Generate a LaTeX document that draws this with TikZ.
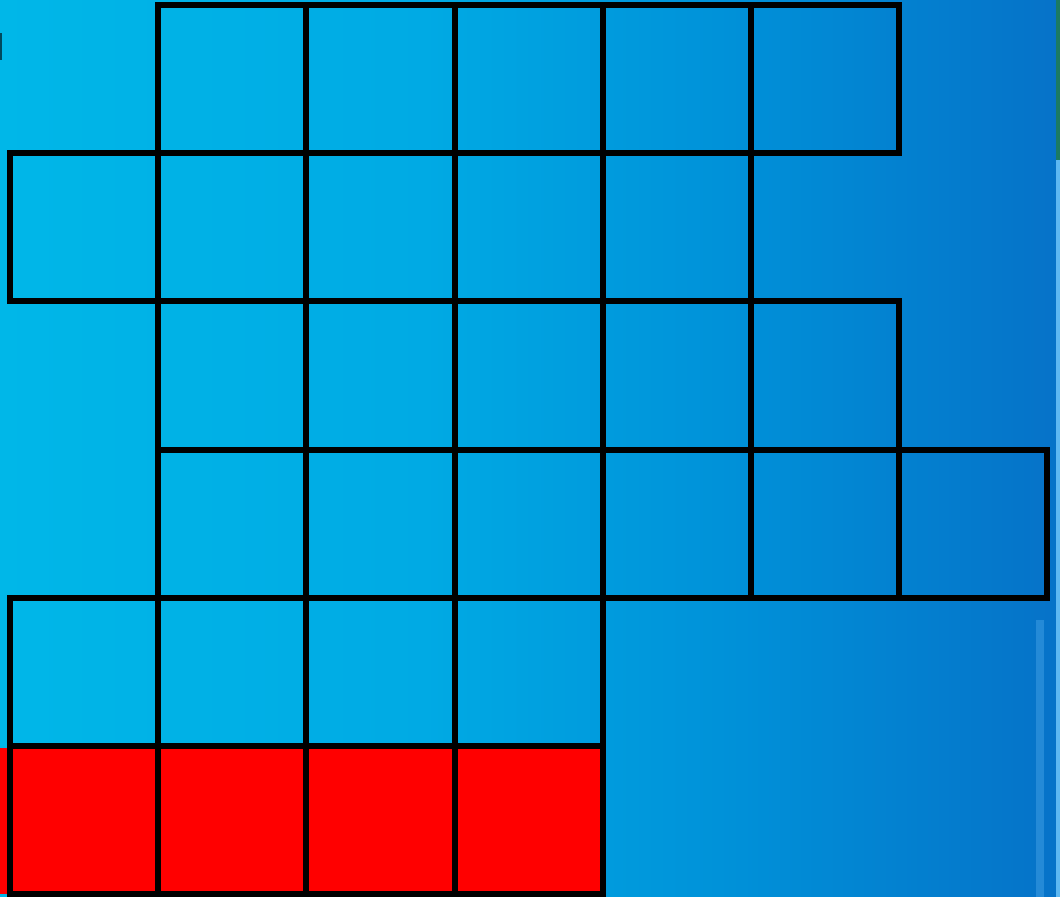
\documentclass[tikz,border=0pt]{standalone}
\usetikzlibrary{positioning}
\definecolor{SkyLeft}{HTML}{00B7E8}
\definecolor{SkyMid}{HTML}{00AAE4}
\definecolor{SkyDeep}{HTML}{0090D8}
\definecolor{SkyRight}{HTML}{0672C8}
\definecolor{Tile}{HTML}{FF0000}
\definecolor{EdgeGreen}{HTML}{1B7A62}
\definecolor{EdgeLight}{HTML}{5DB8F2}
\pgfdeclarehorizontalshading{skyfade}{100bp}{color(0bp)=(SkyLeft); color(25bp)=(SkyLeft); color(45bp)=(SkyMid); color(60bp)=(SkyDeep); color(75bp)=(SkyRight); color(100bp)=(SkyRight)}

\begin{document}
\begin{tikzpicture}[x=0.01cm,y=-0.01cm,
    cell/.style={draw=black,line width=0.6mm,minimum size=1.482cm,inner sep=0pt,outer sep=0pt},
    redcell/.style={cell,fill=Tile}
  ]
    % background
    \shade[shading=skyfade] (0,0) rectangle (1060,897);
    \useasboundingbox (0,0) rectangle (1060,897);
    \fill[EdgeGreen] (1056,0) rectangle (1060,160);
    \fill[EdgeLight] (1056,160) rectangle (1060,897);
    \fill[EdgeLight!35!SkyRight] (1036,620) rectangle (1044,897);
    \fill[black!60!SkyLeft] (0,33) rectangle (2,60);
    % blue rows
    \foreach \row/\cols in {0/{1,2,3,4,5},1/{0,1,2,3,4},2/{1,2,3,4,5},3/{1,2,3,4,5,6},4/{0,1,2,3}}
      \foreach \col in \cols
        \node[cell] (cell-\row-\col) at (84.1+148.2*\col,79.1+148.2*\row) {};
    % red row
    \fill[Tile] (0,748) rectangle (10,894);
    \foreach \col in {0,1,2,3}
      \node[redcell] (cell-5-\col) at (84.1+148.2*\col,79.1+148.2*5) {};
  \end{tikzpicture}
\end{document}
